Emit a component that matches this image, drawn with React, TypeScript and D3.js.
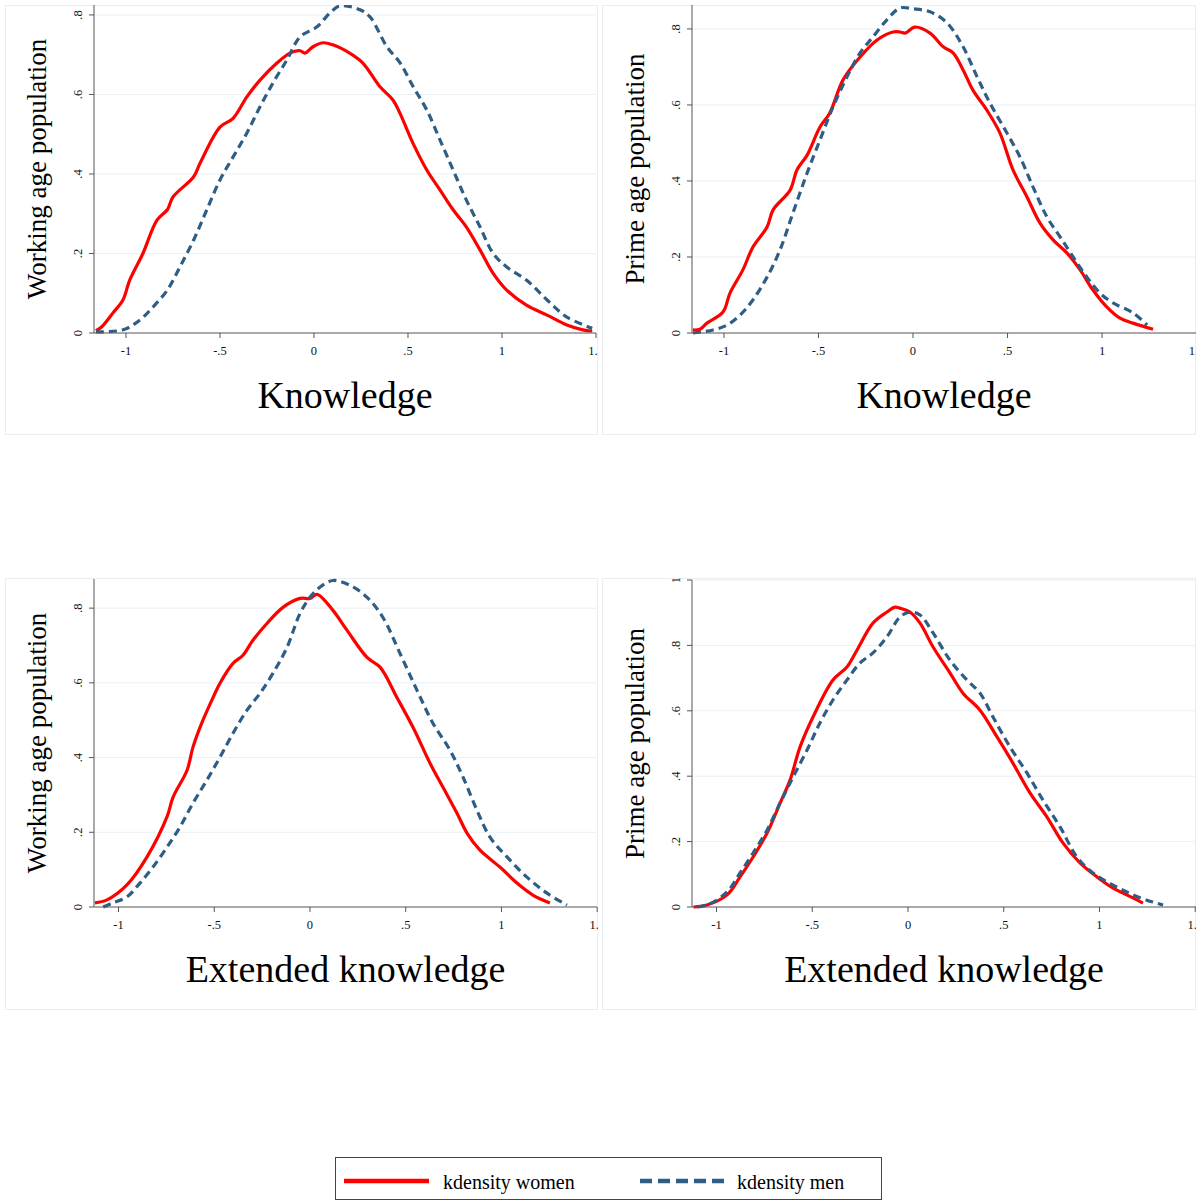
import * as d3 from 'd3'

// kdensity estimates: [score, density]
const knowWorkWomen: [number, number][] = [
  [-1.16, 0.006], [-1.13, 0.015], [-1.07, 0.05], [-1.016, 0.083], [-0.98, 0.133], [-0.91, 0.2],
  [-0.835, 0.284], [-0.78, 0.31], [-0.75, 0.342], [-0.64, 0.393], [-0.606, 0.427], [-0.5, 0.518],
  [-0.43, 0.54], [-0.357, 0.594], [-0.287, 0.636], [-0.197, 0.679], [-0.128, 0.704], [-0.074, 0.71],
  [-0.048, 0.704], [-0.005, 0.72], [0.048, 0.73], [0.1, 0.725], [0.19, 0.704], [0.26, 0.679],
  [0.35, 0.62], [0.42, 0.586], [0.457, 0.553], [0.527, 0.477], [0.6, 0.41], [0.67, 0.36],
  [0.74, 0.31], [0.81, 0.267], [0.883, 0.209], [0.953, 0.15], [1.025, 0.108], [1.13, 0.07],
  [1.24, 0.045], [1.345, 0.02], [1.43, 0.008], [1.48, 0.005],
]
const knowWorkMen: [number, number][] = [
  [-1.16, 0.003], [-1.015, 0.008], [-0.925, 0.033], [-0.855, 0.066], [-0.78, 0.108], [-0.713, 0.166],
  [-0.64, 0.234], [-0.57, 0.31], [-0.5, 0.385], [-0.43, 0.443], [-0.357, 0.503], [-0.287, 0.569],
  [-0.218, 0.629], [-0.144, 0.687], [-0.074, 0.745], [0.016, 0.77], [0.085, 0.805], [0.138, 0.823],
  [0.245, 0.813], [0.298, 0.795], [0.388, 0.72], [0.457, 0.68], [0.527, 0.62], [0.6, 0.561],
  [0.67, 0.486], [0.74, 0.41], [0.81, 0.335], [0.883, 0.267], [0.953, 0.2], [1.025, 0.166],
  [1.13, 0.133], [1.24, 0.083], [1.345, 0.04], [1.48, 0.012],
]
const knowPrimeWomen: [number, number][] = [
  [-1.164, 0.008], [-1.127, 0.01], [-1.09, 0.026], [-1.005, 0.055], [-0.968, 0.105], [-0.9, 0.166],
  [-0.847, 0.226], [-0.772, 0.279], [-0.74, 0.324], [-0.65, 0.376], [-0.614, 0.429], [-0.56, 0.468],
  [-0.492, 0.542], [-0.44, 0.579], [-0.37, 0.666], [-0.28, 0.726], [-0.19, 0.771], [-0.106, 0.792],
  [-0.069, 0.792], [-0.042, 0.789], [0.01, 0.805], [0.09, 0.789], [0.16, 0.753], [0.212, 0.737],
  [0.265, 0.692], [0.317, 0.639], [0.39, 0.587], [0.46, 0.526], [0.529, 0.429], [0.603, 0.358],
  [0.672, 0.289], [0.741, 0.245], [0.815, 0.21], [0.884, 0.166], [0.952, 0.113], [1.026, 0.068],
  [1.095, 0.039], [1.164, 0.026], [1.27, 0.01],
]
const knowPrimeMen: [number, number][] = [
  [-1.164, 0.0], [-1.058, 0.008], [-0.984, 0.021], [-0.915, 0.047], [-0.847, 0.087], [-0.772, 0.147],
  [-0.704, 0.218], [-0.635, 0.316], [-0.56, 0.421], [-0.492, 0.508], [-0.423, 0.595], [-0.349, 0.674],
  [-0.28, 0.737], [-0.212, 0.779], [-0.138, 0.824], [-0.069, 0.855], [0.0, 0.853], [0.09, 0.845],
  [0.18, 0.816], [0.265, 0.753], [0.339, 0.674], [0.407, 0.605], [0.497, 0.526], [0.566, 0.463],
  [0.635, 0.384], [0.709, 0.305], [0.778, 0.253], [0.847, 0.2], [0.92, 0.147], [0.989, 0.105],
  [1.058, 0.079], [1.164, 0.053], [1.238, 0.021],
]
const extWorkWomen: [number, number][] = [
  [-1.123, 0.011], [-1.06, 0.019], [-0.956, 0.059], [-0.851, 0.134], [-0.747, 0.241], [-0.715, 0.294],
  [-0.642, 0.366], [-0.611, 0.428], [-0.559, 0.5], [-0.506, 0.561], [-0.47, 0.599], [-0.402, 0.652],
  [-0.35, 0.674], [-0.298, 0.714], [-0.225, 0.759], [-0.141, 0.802], [-0.052, 0.826], [0.0, 0.826],
  [0.037, 0.837], [0.12, 0.794], [0.193, 0.741], [0.298, 0.668], [0.366, 0.642], [0.454, 0.561],
  [0.538, 0.481], [0.627, 0.385], [0.694, 0.321], [0.768, 0.251], [0.82, 0.198], [0.888, 0.152],
  [0.992, 0.107], [1.081, 0.064], [1.164, 0.032], [1.253, 0.011],
]
const extWorkMen: [number, number][] = [
  [-1.08, 0.0], [-1.03, 0.011], [-0.956, 0.027], [-0.888, 0.064], [-0.82, 0.107], [-0.747, 0.16],
  [-0.679, 0.214], [-0.611, 0.278], [-0.538, 0.34], [-0.47, 0.401], [-0.402, 0.465], [-0.329, 0.527],
  [-0.261, 0.572], [-0.193, 0.626], [-0.12, 0.695], [-0.052, 0.786], [0.0, 0.829], [0.052, 0.856],
  [0.12, 0.874], [0.209, 0.861], [0.298, 0.829], [0.381, 0.775], [0.47, 0.679], [0.559, 0.58],
  [0.642, 0.492], [0.731, 0.42], [0.799, 0.348], [0.872, 0.259], [0.94, 0.187], [1.029, 0.134],
  [1.133, 0.08], [1.238, 0.037], [1.342, 0.005],
]
const extPrimeWomen: [number, number][] = [
  [-1.12, 0.0], [-1.05, 0.006], [-0.945, 0.037], [-0.877, 0.092], [-0.809, 0.153], [-0.736, 0.226],
  [-0.668, 0.318], [-0.616, 0.388], [-0.564, 0.489], [-0.496, 0.581], [-0.392, 0.694], [-0.319, 0.734],
  [-0.266, 0.786], [-0.183, 0.868], [-0.11, 0.902], [-0.068, 0.917], [-0.042, 0.914], [0.01, 0.902],
  [0.063, 0.868], [0.131, 0.795], [0.219, 0.716], [0.287, 0.654], [0.376, 0.602], [0.465, 0.52],
  [0.548, 0.44], [0.637, 0.349], [0.726, 0.275], [0.809, 0.196], [0.898, 0.135], [0.987, 0.092],
  [1.071, 0.058], [1.175, 0.028], [1.227, 0.012],
]
const extPrimeMen: [number, number][] = [
  [-1.1, 0.0], [-1.034, 0.01], [-0.945, 0.046], [-0.877, 0.104], [-0.809, 0.165], [-0.736, 0.235],
  [-0.668, 0.318], [-0.6, 0.398], [-0.527, 0.48], [-0.46, 0.563], [-0.392, 0.633], [-0.319, 0.694],
  [-0.251, 0.746], [-0.183, 0.777], [-0.11, 0.826], [-0.042, 0.887], [0.01, 0.902], [0.063, 0.893],
  [0.131, 0.838], [0.219, 0.755], [0.308, 0.694], [0.376, 0.654], [0.444, 0.581], [0.533, 0.489],
  [0.621, 0.41], [0.705, 0.327], [0.794, 0.245], [0.882, 0.153], [0.966, 0.104], [1.071, 0.067],
  [1.175, 0.037], [1.279, 0.015], [1.332, 0.006],
]

const xTicks = [-1, -0.5, 0, 0.5, 1, 1.5]
const yTicksA = [0, 0.2, 0.4, 0.6, 0.8]
const yTicksB = [0, 0.2, 0.4, 0.6, 0.8, 1]
const legendLabels = ['kdensity women', 'kdensity men']

const RED = '#ff0000'
const NAVY = '#2e5d85'
const FONT = '"Liberation Serif", "Times New Roman", serif'

const panels = [
  { id: 'p1', box: [5, 5, 598, 435], plot: { l: 94, r: 596, t: 5, b: 333 }, xDom: [-1.17, 1.5], yMax: 0.825,
    yTicks: yTicksA, yTitle: 'Working age population', xTitle: 'Knowledge', women: knowWorkWomen, men: knowWorkMen },
  { id: 'p2', box: [602, 5, 1196, 435], plot: { l: 692, r: 1196, t: 5, b: 333 }, xDom: [-1.169, 1.497], yMax: 0.863,
    yTicks: yTicksA, yTitle: 'Prime age population', xTitle: 'Knowledge', women: knowPrimeWomen, men: knowPrimeMen },
  { id: 'p3', box: [5, 578, 598, 1010], plot: { l: 94, r: 597, t: 579, b: 907 }, xDom: [-1.128, 1.499], yMax: 0.878,
    yTicks: yTicksA, yTitle: 'Working age population', xTitle: 'Extended knowledge', women: extWorkWomen, men: extWorkMen },
  { id: 'p4', box: [602, 578, 1196, 1010], plot: { l: 692, r: 1196, t: 580, b: 907 }, xDom: [-1.128, 1.504], yMax: 1,
    yTicks: yTicksB, yTitle: 'Prime age population', xTitle: 'Extended knowledge', women: extPrimeWomen, men: extPrimeMen },
]

const fmt = (v: number) => (v === 0 ? '0' : String(v).replace('0.', '.'))

function Panel({ p }: { p: (typeof panels)[number] }) {
  const { l, r, t, b } = p.plot
  const x = d3.scaleLinear().domain(p.xDom).range([l, r])
  const y = d3.scaleLinear().domain([0, p.yMax]).range([b, t])
  const line = d3
    .line<[number, number]>()
    .x((d) => x(d[0]))
    .y((d) => y(d[1]))
    .curve(d3.curveCatmullRom.alpha(0.5))
  const [bx0, by0, bx1, by1] = p.box
  return (
    <g>
      <defs>
        <clipPath id={`clip-${p.id}`}>
          <rect x={bx0} y={by0} width={bx1 - bx0} height={by1 - by0} />
        </clipPath>
      </defs>
      <rect x={bx0 + 0.5} y={by0 + 0.5} width={bx1 - bx0 - 1} height={by1 - by0 - 1} fill="#fff" stroke="#e8eef2" />
      <g clipPath={`url(#clip-${p.id})`}>
        {p.yTicks
          .filter((v) => v > 0)
          .map((v) => (
            <line key={v} x1={l} x2={r} y1={y(v)} y2={y(v)} stroke="#eaf0f4" strokeWidth={1} />
          ))}
        <path d={line(p.women) ?? ''} fill="none" stroke={RED} strokeWidth={3.2} strokeLinejoin="round" />
        <path d={line(p.men) ?? ''} fill="none" stroke={NAVY} strokeWidth={3.2} strokeDasharray="8,5" />
        {/* axes */}
        <line x1={l} x2={l} y1={t} y2={b} stroke="#555" />
        <line x1={l} x2={r} y1={b} y2={b} stroke="#555" />
        {p.yTicks.map((v) => (
          <g key={v}>
            <line x1={l - 5} x2={l} y1={y(v)} y2={y(v)} stroke="#555" />
            <text
              transform={`translate(${l - 12},${y(v)}) rotate(-90)`}
              textAnchor="middle"
              fontFamily={FONT}
              fontSize={12.5}
              fill="#111"
            >
              {fmt(v)}
            </text>
          </g>
        ))}
        {xTicks.map((v) => (
          <g key={v}>
            <line x1={x(v)} x2={x(v)} y1={b} y2={b + 5} stroke="#555" />
            <text x={x(v)} y={b + 22} textAnchor="middle" fontFamily={FONT} fontSize={12.5} fill="#111">
              {fmt(v)}
            </text>
          </g>
        ))}
        <text
          transform={`translate(${l - 48},${(t + b) / 2}) rotate(-90)`}
          textAnchor="middle"
          fontFamily={FONT}
          fontSize={27}
          fill="#000"
        >
          {p.yTitle}
        </text>
        <text x={(l + r) / 2} y={b + 75} textAnchor="middle" fontFamily={FONT} fontSize={38} fill="#000">
          {p.xTitle}
        </text>
      </g>
    </g>
  )
}

export default function App() {
  return (
    <svg width={1197} height={1203} style={{ position: 'absolute', left: 0, top: 0, background: '#fff' }}>
      <rect width={1197} height={1203} fill="#fff" />
      {panels.map((p) => (
        <Panel key={p.id} p={p} />
      ))}
      <g>
        <rect x={335.5} y={1157.5} width={546} height={42} fill="#fff" stroke="#444" />
        <line x1={344} x2={429} y1={1181} y2={1181} stroke={RED} strokeWidth={4.5} />
        <text x={443} y={1189} fontFamily={FONT} fontSize={20} fill="#000">
          {legendLabels[0]}
        </text>
        <line x1={640} x2={725} y1={1181} y2={1181} stroke={NAVY} strokeWidth={4.5} strokeDasharray="12,6" />
        <text x={737} y={1189} fontFamily={FONT} fontSize={20} fill="#000">
          {legendLabels[1]}
        </text>
      </g>
    </svg>
  )
}
